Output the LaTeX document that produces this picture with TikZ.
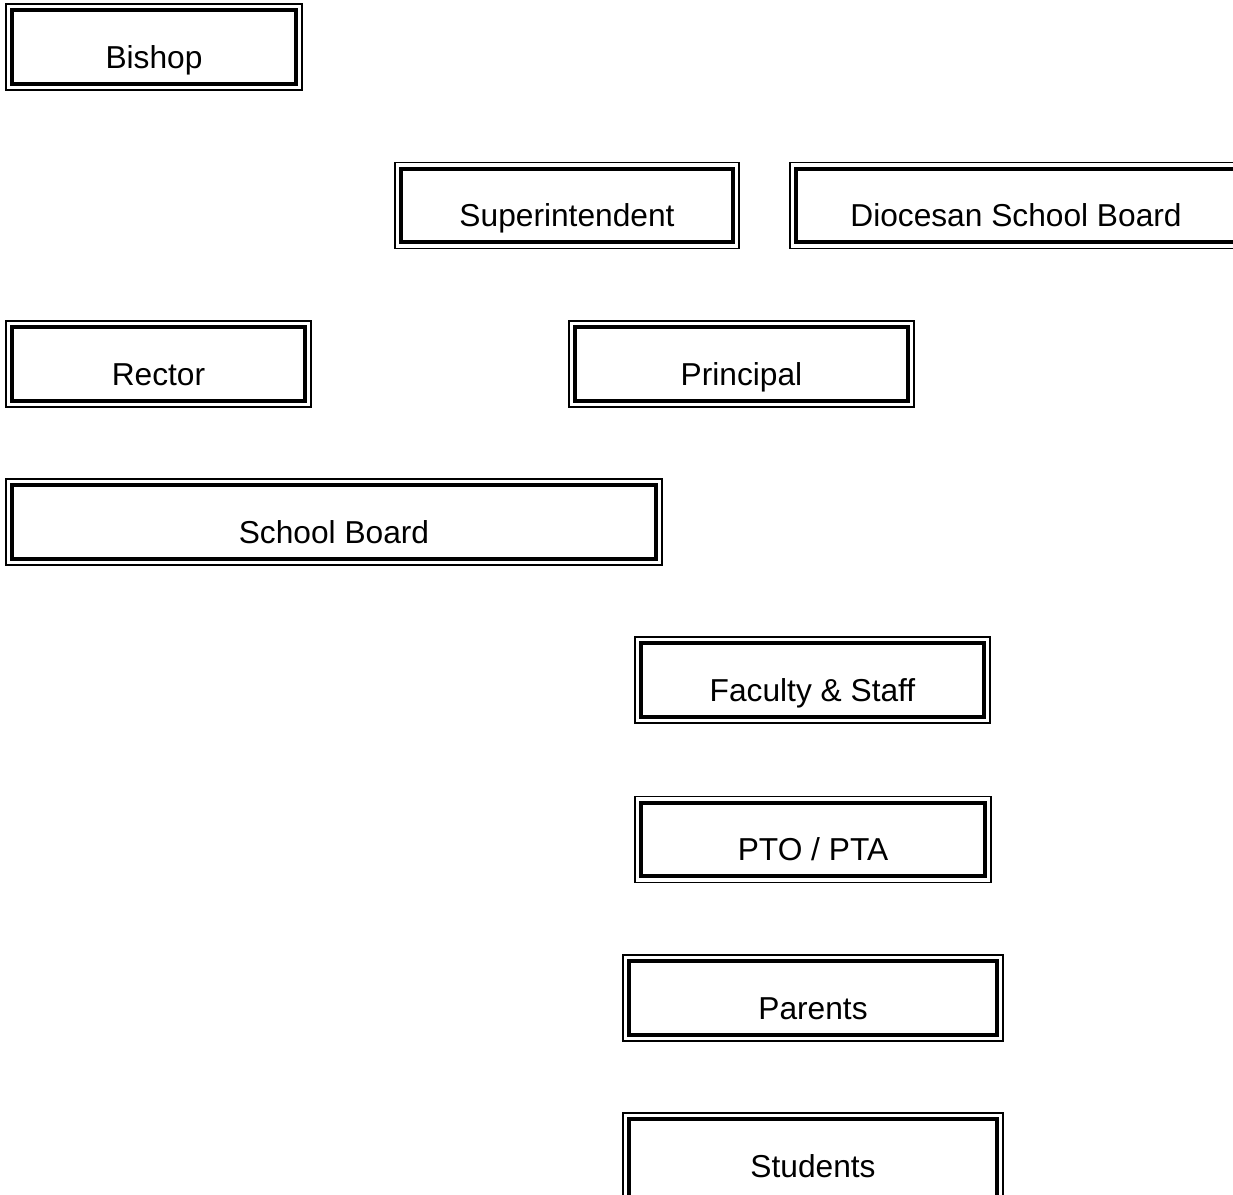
\documentclass[tikz,border=0pt]{standalone}
\usepackage{fontspec}
\setmainfont{Liberation Sans}
\begin{document}
\begin{tikzpicture}[x=1pt,y=-1pt,
  orgbox/.style={draw=black, line width=3.7pt, inner sep=0pt, align=center,
    font=\fontsize{31.7}{38}\selectfont, text height=57.8pt, text depth=15.8pt},
  frame/.style={draw=black, line width=1.6pt}]
\useasboundingbox (0,0) rectangle (1233,1194);
\clip (0,0) rectangle (1233,1194);
% centres (outer box) and widths (outer width - 10.4)
\node[orgbox, minimum width=283.6pt] (bishop)  at (154,47)   {Bishop};
\node[orgbox, minimum width=331.6pt] (super)   at (567,205.5) {Superintendent};
\node[orgbox, minimum width=439.6pt] (dsb)     at (1016,205.5) {Diocesan School Board};
\node[orgbox, minimum width=292.6pt] (rector)  at (158.5,364) {Rector};
\node[orgbox, minimum width=332.6pt] (princ)   at (741.5,364) {Principal};
\node[orgbox, minimum width=643.6pt] (sboard)  at (334,522)   {School Board};
\node[orgbox, minimum width=342.6pt] (faculty) at (812.5,680) {Faculty \& Staff};
\node[orgbox, minimum width=343.6pt] (pto)     at (813,839.5) {PTO / PTA};
\node[orgbox, minimum width=367.6pt] (parents) at (813,998)   {Parents};
\node[orgbox, minimum width=367.6pt, text depth=25pt] (students) at (813,1160.6)  {Students};
\foreach \n in {bishop,super,dsb,rector,princ,sboard,faculty,pto,parents,students}
  \draw[frame] ([xshift=-4.4pt,yshift=4.4pt]\n.north west) rectangle ([xshift=4.4pt,yshift=-4.4pt]\n.south east);
\end{tikzpicture}
\end{document}
